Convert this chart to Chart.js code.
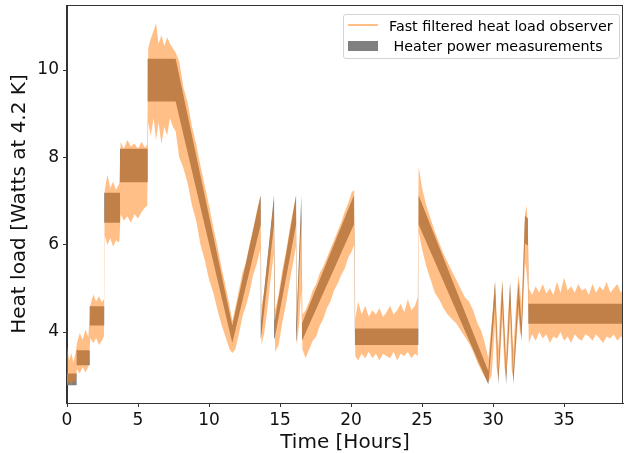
<!DOCTYPE html>
<html>
<head>
<meta charset="utf-8">
<script src="https://cdn.jsdelivr.net/npm/chart.js@4.4.1/dist/chart.umd.min.js"></script>
<style>
  html, body { margin: 0; padding: 0; background: #fff; }
  #wrap { position: relative; width: 624px; height: 453px; }
  #legend {
    position: absolute; left: 343px; top: 14px; width: 277px; height: 45px;
    box-sizing: border-box; border: 1px solid #d4d4d4; border-radius: 3px;
    background: rgba(255,255,255,0.8);
    font-family: 'DejaVu Sans', sans-serif; font-size: 14.3px; color: #000;
  }
  #legend .item { position: absolute; left: 45px; line-height: 1; white-space: pre; }
  #legend .line { position: absolute; left: 4px; top: 9px; width: 30px; height: 2px; background: rgba(255,127,14,0.5); }
  #legend .patch { position: absolute; left: 4px; top: 26px; width: 30px; height: 10px; background: #808080; }
</style>
</head>
<body>
<div id="wrap">
  <canvas id="chart" width="624" height="453"></canvas>
  <div id="legend">
    <div class="line"></div>
    <div class="item" style="top:4px">Fast filtered heat load observer</div>
    <div class="patch"></div>
    <div class="item" style="top:24px"> Heater power measurements</div>
  </div>
</div>
<script>
// tick labels
var xTicks = [0, 5, 10, 15, 20, 25, 30, 35];
var yTicks = [4, 6, 8, 10];

// heater power measurements: upper / lower edge of the band (W)
var heatTime = [0, 0.68, 0.68, 1.6, 1.6, 2.62, 2.62, 3.73, 3.73, 5.68, 5.68, 7.65,
  11.64, 13.64, 13.66, 14.58, 14.62, 16.13, 16.16, 16.5, 16.55, 20.2, 20.28, 24.74,
  24.76, 29.67, 30.14, 30.37, 30.65, 30.92, 31.2, 31.43, 31.78, 32.0, 32.25, 32.45,
  32.49, 39.2];
var heatHigh = [3.05, 3.05, 3.58, 3.58, 4.59, 4.59, 7.19, 7.19, 8.2, 8.2, 10.26, 10.26,
  4.15, 7.13, 4.25, 7.13, 4.25, 7.13, 4.2, 7.13, 4.2, 7.13, 4.08, 4.08,
  7.13, 3.1, 5.15, 3.1, 5.15, 3.1, 5.15, 3.1, 5.15, 4.2, 6.67, 6.6,
  4.65, 4.65];
var heatLow = [2.78, 2.78, 3.24, 3.24, 4.15, 4.15, 6.5, 6.5, 7.43, 7.43, 9.28, 9.28,
  3.75, 6.46, 3.85, 6.46, 3.85, 6.46, 3.8, 6.46, 3.8, 6.46, 3.7, 3.7,
  6.46, 2.8, 4.65, 2.8, 4.65, 2.8, 4.65, 2.8, 4.65, 3.8, 6.03, 5.98,
  4.19, 4.19];

// fast filtered observer: upper / lower envelope of the noisy trace (W)
var obsTime = [
  0, 0.15, 0.3, 0.45, 0.62,
  0.7, 0.9, 1.1, 1.3, 1.5,
  1.65, 1.85, 2.05, 2.25, 2.45, 2.6,
  2.66, 2.85, 3.05, 3.25, 3.45, 3.68,
  3.78, 4.0, 4.25, 4.5, 4.75, 5.0, 5.25, 5.5, 5.65,
  5.72, 5.9, 6.1, 6.27, 6.45, 6.65, 6.85, 7.05, 7.25, 7.45, 7.65,
  7.9, 8.2, 8.5, 8.8, 9.1, 9.4, 9.7, 10.0, 10.3, 10.6, 10.9, 11.2, 11.45, 11.64,
  11.85, 12.1, 12.35, 12.6, 12.85, 13.1, 13.35, 13.62,
  13.7, 13.9, 14.1, 14.3, 14.56,
  14.66, 14.9, 15.15, 15.4, 15.65, 15.9, 16.12,
  16.18, 16.35, 16.5, 16.58,
  16.8, 17.05, 17.3, 17.55, 17.8, 18.05, 18.3, 18.55, 18.8, 19.05, 19.3, 19.55, 19.8, 20.05, 20.22,
  20.3, 20.5, 20.75, 21.0, 21.25, 21.5, 21.75, 22.0, 22.25, 22.5, 22.75, 23.0, 23.25, 23.5, 23.75, 24.0, 24.25, 24.5, 24.7,
  24.76, 25.0, 25.3, 25.6, 25.9, 26.2, 26.5, 26.8, 27.1, 27.4, 27.7, 28.0, 28.3, 28.6, 28.9, 29.2, 29.45, 29.67,
  29.9, 30.14, 30.25, 30.37, 30.5, 30.65, 30.8, 30.92, 31.05, 31.2, 31.32, 31.43, 31.6, 31.78, 31.9, 32.0, 32.12, 32.25, 32.35, 32.45,
  32.52, 32.75, 33.0, 33.25, 33.5, 33.75, 34.0, 34.25, 34.5, 34.75, 35.0, 35.25, 35.5, 35.75, 36.0, 36.25, 36.5, 36.75, 37.0, 37.25, 37.5, 37.75, 38.0, 38.25, 38.5, 38.75, 39.0, 39.2
];
var obsHigh = [
  3.68, 3.35, 3.52, 3.3, 3.55,
  3.75, 3.98, 3.82, 4.06, 3.88,
  4.62, 4.86, 4.7, 4.82, 4.68, 4.75,
  7.25, 7.6, 7.3, 7.45, 7.25, 7.4,
  8.35, 8.2, 8.4, 8.25, 8.32, 8.2, 8.36, 8.22, 8.3,
  10.5, 10.72, 10.9, 11.07, 10.6, 10.8, 10.55, 10.75, 10.6, 10.5, 10.4,
  10.2, 9.6, 9.25, 8.7, 8.3, 7.8, 7.35, 6.9, 6.4, 5.95, 5.45, 5.0, 4.6, 4.25,
  4.55, 4.95, 5.35, 5.6, 6.0, 6.35, 6.75, 7.12,
  4.6, 4.95, 5.6, 6.2, 7.0,
  4.5, 4.85, 5.4, 5.8, 6.3, 6.75, 7.1,
  4.5, 5.6, 6.9, 4.4,
  4.5, 4.7, 4.95, 5.1, 5.35, 5.5, 5.7, 5.9, 6.1, 6.3, 6.5, 6.75, 6.95, 7.2, 7.25,
  4.3, 4.7, 4.4, 4.6, 4.35, 4.5, 4.4, 4.55, 4.35, 4.45, 4.6, 4.4, 4.5, 4.65, 4.45, 4.75, 4.5, 4.6, 4.8,
  7.8, 7.3, 6.9, 6.6, 6.3, 6.05, 5.8, 5.6, 5.4, 5.2, 5.0, 4.8, 4.7, 4.5, 4.2, 4.0, 3.7, 3.4,
  4.2, 5.15, 4.4, 3.6, 4.5, 5.2, 4.2, 3.5, 4.4, 5.1, 4.2, 3.6, 4.5, 5.3, 5.0, 4.6, 5.6, 6.7, 6.9, 6.5,
  5.0, 4.85, 5.05, 4.9, 5.1, 4.88, 5.0, 4.85, 5.15, 4.9, 5.25, 4.95, 5.05, 4.9, 5.1, 4.95, 5.0, 4.85, 5.1, 4.9, 5.05, 4.95, 5.15, 4.9, 5.0, 5.1, 4.9, 5.0
];
var obsLow = [
  2.82, 2.86, 2.78, 2.9, 2.84,
  3.15, 3.05, 3.2, 3.08, 3.2,
  3.86, 3.74, 3.86, 3.7, 3.8, 3.9,
  6.2, 6.0, 6.15, 5.95, 6.1, 6.05,
  6.7, 6.55, 6.65, 6.5, 6.7, 6.6, 6.75, 6.85, 6.9,
  8.8, 8.5, 8.9, 8.4, 8.8, 8.3, 8.7, 8.5, 8.9, 8.7, 8.6,
  8.0, 7.75, 7.4, 6.9, 6.55, 6.0, 5.65, 5.2, 4.9, 4.5, 4.15, 3.85, 3.6, 3.52,
  3.6, 3.95, 4.35, 4.6, 4.9, 5.3, 5.55, 5.9,
  3.7, 4.0, 4.5, 5.1, 5.8,
  3.55, 3.7, 4.2, 4.6, 5.1, 5.55, 5.95,
  3.7, 4.2, 5.0, 3.6,
  3.4, 3.6, 3.8, 3.9, 4.15, 4.3, 4.55, 4.7, 4.95, 5.1, 5.3, 5.45, 5.7, 5.85, 6.0,
  3.45, 3.35, 3.5, 3.4, 3.55, 3.4, 3.5, 3.35, 3.5, 3.45, 3.4, 3.55, 3.35, 3.5, 3.45, 3.55, 3.4, 3.5, 3.45,
  6.3, 5.9, 5.5, 5.2, 4.9, 4.75, 4.55, 4.4, 4.3, 4.2, 4.05, 3.9, 3.75, 3.55, 3.3, 3.1, 2.95, 2.85,
  3.0, 4.2, 3.2, 2.9, 3.4, 4.3, 3.2, 2.95, 3.5, 4.2, 3.1, 2.95, 3.6, 4.4, 4.0, 3.9, 4.6, 5.6, 5.4, 5.0,
  3.75, 3.95, 3.8, 4.0, 3.85, 3.95, 3.75, 3.9, 3.85, 4.0, 3.8, 3.9, 3.75, 3.95, 3.85, 3.8, 3.95, 3.9, 3.8, 3.95, 3.85, 3.75, 3.9, 3.85, 3.95, 3.8, 3.9, 3.85
];

var FONT = "'DejaVu Sans', sans-serif";
var AXIS = '#333';

function pts(xs, ys) {
  return xs.map(function(x, i) { return { x: x, y: ys[i] }; });
}

function band(data, fill, color) {
  return {
    data: data,
    fill: fill,
    backgroundColor: color,
    borderColor: 'transparent',
    borderWidth: 0,
    pointRadius: 0,
    tension: 0,
  };
}

var frame = {
  id: 'frame',
  afterDraw: function(chart) {
    var a = chart.chartArea, ctx = chart.ctx;
    ctx.save();
    ctx.strokeStyle = AXIS;
    ctx.lineWidth = 1;
    ctx.strokeRect(a.left - 0.5, a.top + 0.5, a.right - a.left, a.bottom - a.top);
    ctx.restore();
  }
};

function axisScale(ticks, min, max, opts) {
  return {
    type: 'linear',
    min: min,
    max: max,
    afterBuildTicks: function(s) { s.ticks = ticks.map(function(v) { return { value: v }; }); },
    afterFit: function(s) {
      // fixed plot box, no overhang padding for end labels
      s.paddingTop = 0; s.paddingBottom = 0; s.paddingLeft = 0; s.paddingRight = 0;
      opts.fit(s);
    },
    ticks: {
      color: '#111',
      font: { family: FONT, size: 17 },
      padding: opts.pad,
      autoSkip: false,
      maxRotation: 0,
    },
    grid: { drawOnChartArea: false, drawTicks: true, tickLength: 4, color: AXIS, lineWidth: 1 },
    border: { display: true, color: AXIS, width: 1 },
    title: {
      display: true,
      text: opts.title,
      color: '#111',
      font: { family: FONT, size: 20, lineHeight: 1 },
      padding: { top: opts.titlePad, bottom: 0 },
    },
  };
}

new Chart(document.getElementById('chart'), {
  type: 'line',
  data: {
    datasets: [
      band(pts(obsTime, obsHigh), '+1', 'rgba(255,127,14,0.5)'),
      band(pts(obsTime, obsLow), false, 'transparent'),
      band(pts(heatTime, heatHigh), '+1', '#808080'),
      band(pts(heatTime, heatLow), false, 'transparent'),
    ],
  },
  options: {
    responsive: false,
    animation: false,
    devicePixelRatio: 1,
    layout: { padding: { top: 5, right: 1, left: 0, bottom: 0 } },
    plugins: { legend: { display: false }, tooltip: { enabled: false } },
    scales: {
      x: axisScale(xTicks, 0, 39.15, {
        title: 'Time [Hours]', pad: 3, titlePad: 1,
        fit: function(s) { s.height = 50; },
      }),
      y: axisScale(yTicks, 2.374, 11.49, {
        title: 'Heat load [Watts at 4.2 K]', pad: 4, titlePad: 10,
        fit: function(s) { s.width = 67; },
      }),
    },
  },
  plugins: [frame],
});
</script>
</body>
</html>
